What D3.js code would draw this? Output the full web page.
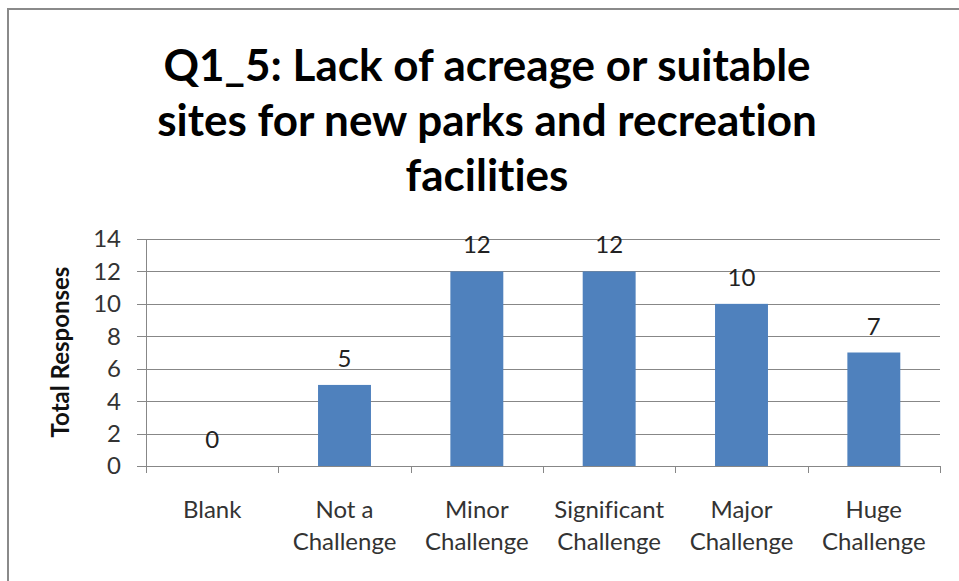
<!DOCTYPE html>
<html>
<head>
<meta charset="utf-8">
<script src="https://cdn.jsdelivr.net/npm/d3@7"></script>
<style>
  html, body { margin: 0; padding: 0; background: #fff; }
  svg { display: block; font-family: Lato, "Open Sans", sans-serif; font-variant-ligatures: none; font-feature-settings: "liga" 0, "clig" 0; }
</style>
</head>
<body>
<svg id="chart" width="959" height="581"></svg>
<script>
const titleLines = ["Q1_5: Lack of acreage or suitable", "sites for new parks and recreation", "facilities"];
const categories = ["Blank", "Not a Challenge", "Minor Challenge", "Significant Challenge", "Major Challenge", "Huge Challenge"];
const categoryLines = [["Blank"], ["Not a", "Challenge"], ["Minor", "Challenge"], ["Significant", "Challenge"], ["Major", "Challenge"], ["Huge", "Challenge"]];
const values = [0, 5, 12, 12, 10, 7];
const yTicks = [0, 2, 4, 6, 8, 10, 12, 14];
const yTitle = "Total Responses";

const svg = d3.select("#chart");
const W = 959, H = 581;
const plot = { left: 146, right: 940, top: 239, bottom: 466 };

// outer frame (top and left visible)
svg.append("path")
  .attr("d", `M${W + 5},9 H8 V${H + 5}`)
  .attr("fill", "none").attr("stroke", "#8a8a8a").attr("stroke-width", 2);

// title
const title = svg.append("text")
  .attr("text-anchor", "middle")
  .attr("font-weight", "bold")
  .attr("font-size", 44)
  .attr("fill", "#000");
titleLines.forEach((t, i) => {
  title.append("tspan").attr("x", 487).attr("y", 81 + i * 55).text(t);
});

const x = d3.scaleBand().domain(categories)
  .range([plot.left, plot.right]).paddingInner(0.6).paddingOuter(0.3);
const y = d3.scaleLinear().domain([0, 14]).range([plot.bottom, plot.top]);

// gridlines + y tick marks
const yAxis = d3.axisLeft(y).tickValues(yTicks).tickSize(-(plot.right - plot.left)).tickPadding(0).tickFormat("");
const gy = svg.append("g").attr("transform", `translate(${plot.left},0)`).call(yAxis);
gy.select(".domain").remove();
gy.selectAll(".tick line").attr("stroke", "#878787").attr("stroke-width", 1).attr("x1", -9);
gy.selectAll(".tick").attr("transform", d => `translate(0,${Math.round(y(d)) + 0.5})`);

// y tick labels
svg.append("g").selectAll("text").data(yTicks).join("text")
  .attr("x", 121).attr("y", d => y(d))
  .attr("dy", "0.35em")
  .attr("text-anchor", "end")
  .attr("font-size", 24).attr("fill", "#333")
  .text(d => d);

// bars
svg.append("g").selectAll("rect").data(values).join("rect")
  .attr("x", (d, i) => x(categories[i]))
  .attr("width", x.bandwidth())
  .attr("y", d => y(d))
  .attr("height", d => y(0) - y(d))
  .attr("fill", "#4f81bd");

// y axis line
svg.append("line")
  .attr("x1", plot.left + 0.5).attr("x2", plot.left + 0.5)
  .attr("y1", plot.top).attr("y2", plot.bottom)
  .attr("stroke", "#878787");

// x axis line + category ticks
svg.append("line")
  .attr("x1", plot.left).attr("x2", plot.right)
  .attr("y1", Math.round(y(0)) + 0.5).attr("y2", Math.round(y(0)) + 0.5)
  .attr("stroke", "#878787");
const boundaries = categories.map(c => x(c) - x.step() * x.paddingInner() / 2);
boundaries.push(plot.right);
boundaries[0] = plot.left;
svg.append("g").selectAll("line").data(boundaries).join("line")
  .attr("x1", d => Math.round(d) + 0.5).attr("x2", d => Math.round(d) + 0.5)
  .attr("y1", plot.bottom).attr("y2", plot.bottom + 7)
  .attr("stroke", "#878787");

// value labels
svg.append("g").selectAll("text").data(values).join("text")
  .attr("x", (d, i) => x(categories[i]) + x.bandwidth() / 2)
  .attr("y", d => y(d) - 18)
  .attr("text-anchor", "middle")
  .attr("font-size", 24).attr("fill", "#222")
  .text(d => d);

// category labels
const cat = svg.append("g");
categoryLines.forEach((lines, i) => {
  const t = cat.append("text")
    .attr("text-anchor", "middle")
    .attr("font-size", 24).attr("fill", "#333");
  lines.forEach((l, j) => {
    t.append("tspan")
      .attr("x", x(categories[i]) + x.bandwidth() / 2)
      .attr("y", 518 + j * 32)
      .text(l);
  });
});

// y title
svg.append("text")
  .attr("transform", `translate(69,352) rotate(-90)`)
  .attr("text-anchor", "middle")
  .attr("font-weight", "bold")
  .attr("font-size", 24).attr("fill", "#111")
  .text(yTitle);
</script>
</body>
</html>
